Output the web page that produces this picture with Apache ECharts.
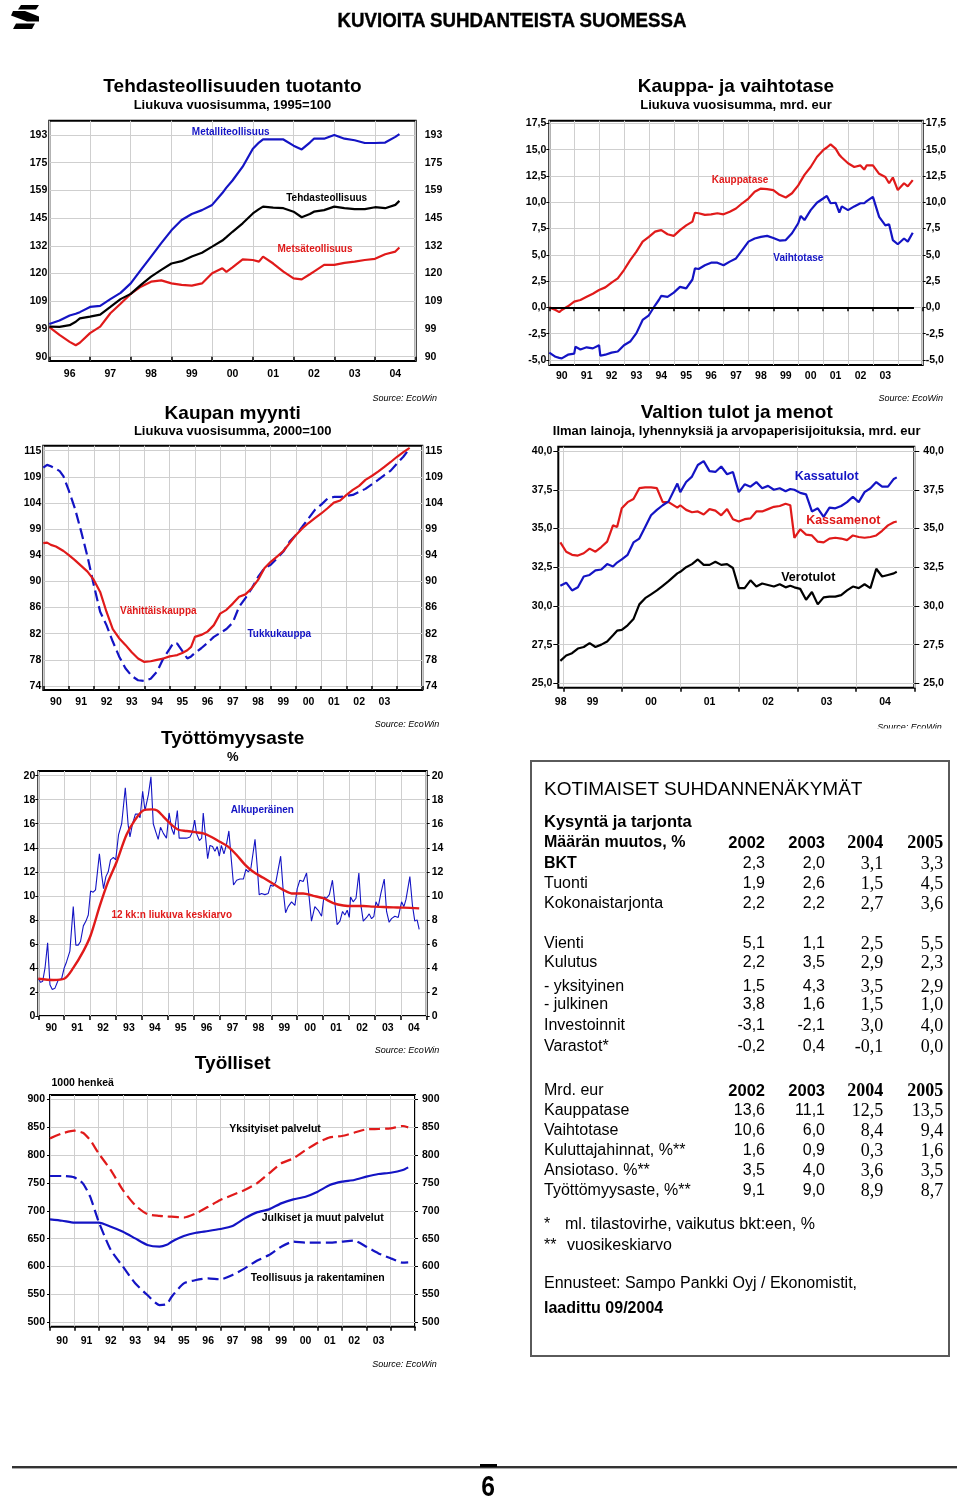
<!DOCTYPE html>
<html><head><meta charset="utf-8">
<script src="https://cdn.jsdelivr.net/npm/echarts@6/dist/echarts.min.js"></script>
<style>
html,body{margin:0;padding:0;background:#fff}
body{width:960px;height:1502px;position:relative;overflow:hidden;font-family:'Liberation Sans',Arial,Helvetica,sans-serif;color:#000}
#chart{position:absolute;left:0;top:0;width:960px;height:1502px}
.t{position:absolute;white-space:nowrap;line-height:20px;height:20px;font-size:16px;z-index:2}
.r{text-align:right;width:80px}
.serif{font-family:'Liberation Serif','Times New Roman',serif;font-size:18px}
.b{font-weight:bold}
#box{position:absolute;left:530px;top:760px;width:416px;height:593px;border:2px solid #5a5a5a;z-index:1}
#hdr{position:absolute;left:512px;top:8px;transform:translateX(-50%) scaleX(0.89);font-weight:bold;font-size:21px;line-height:24px;white-space:nowrap;z-index:2;-webkit-text-stroke:0.4px #000}
#pg{position:absolute;left:488px;top:1470px;transform:translateX(-50%) scaleX(0.85);font-weight:bold;font-size:29px;line-height:32px;z-index:2}
#rule{position:absolute;left:12px;top:1466px;width:945px;height:2px;background:#333;z-index:2}
#rule2{position:absolute;left:12px;top:1468px;width:945px;height:1px;background:#aaa;z-index:2}
#dash{position:absolute;left:480px;top:1464px;width:17px;height:3px;background:#000;z-index:2}
#logo{position:absolute;left:0;top:0;z-index:2}
</style></head>
<body>
<div id="chart"></div>
<svg id="logo" width="50" height="36" viewBox="0 0 50 36">
  <polygon points="21,5 39,5 36,9.5 18,9.5" fill="#000"/>
  <polygon points="13,11 25,11 39,16.5 39,21.5 27,21.5 11,15.5" fill="#000"/>
  <polygon points="16,23.5 35,23.5 32,29 13,29" fill="#000"/>
</svg>
<div id="hdr">KUVIOITA SUHDANTEISTA SUOMESSA</div>
<div id="box"></div>
<div id="tbl"></div>
<div id="rule"></div><div id="rule2"></div><div id="dash"></div>
<div id="pg">6</div>
<script>
// ======================= DATA =======================
// Chart 1: Tehdasteollisuuden tuotanto (log scale, ratio 1.1 from 90)
const c1Years  = [1996,1996.25,1996.5,1996.65,1996.75,1997,1997.25,1997.5,1997.75,1998,1998.25,1998.5,1998.75,1999,1999.25,1999.5,1999.75,2000,2000.25,2000.35,2000.5,2000.75,2001,2001.15,2001.25,2001.5,2001.75,2002,2002.2,2002.4,2002.5,2002.75,2003,2003.25,2003.5,2003.75,2004,2004.25,2004.5,2004.6];
const c1Metal  = [100.7,101.9,103.7,104.3,104.9,106.8,107.2,109.7,112.1,115.8,121.3,127,133,139,144,147,149,151.7,158,161,165,173,184,188,190,190,190,186,183.6,188,190.5,190.5,193,190.5,189.5,187.7,187.7,188,191.7,193.5];
const c1Total  = [99.8,99.7,100.3,101.5,102.7,103.3,104,106.8,109.7,111.7,115.2,118.5,121.3,124,125,127,128.7,131.4,134.2,135.8,138.3,142.4,147.3,149.5,150.8,150.3,150,148.2,145.4,147,148.2,149,150.8,150,149.5,149.5,150.5,150,151.7,153.8];
const c1Forest = [99.6,97,94.7,93.6,94.4,97.6,99.8,104.5,108,111.7,114.5,116.5,117,115.8,115.2,114.9,115.8,119.9,122,120.5,122.4,125.8,125.5,124.8,127,124,120.6,117.8,117.4,119.5,120.6,123.4,123.4,124.3,124.8,125.5,126,128,129.2,131];
const c1TickLabels = ['90','99','109','120','132','145','159','175','193'];
const c1XLabels = ['96','97','98','99','00','01','02','03','04'];

// Chart 2: Kauppa- ja vaihtotase
const c2Years = [1990,1990.25,1990.4,1990.5,1990.75,1991,1991.05,1991.25,1991.5,1991.75,1992,1992.05,1992.25,1992.5,1992.75,1993,1993.25,1993.5,1993.75,1994,1994.25,1994.4,1994.5,1994.75,1995,1995.25,1995.5,1995.75,1995.85,1996,1996.25,1996.5,1996.75,1997,1997.25,1997.5,1997.75,1998,1998.25,1998.5,1998.75,1999,1999.25,1999.5,1999.75,2000,2000.1,2000.25,2000.5,2000.75,2001,2001.15,2001.3,2001.5,2001.65,2001.75,2002,2002.25,2002.5,2002.65,2002.75,2003,2003.25,2003.5,2003.65,2003.8,2004,2004.25,2004.4,2004.6];
const c2Trade = [0,-0.25,-0.45,-0.25,0.1,0.55,0.6,0.7,1.0,1.3,1.65,1.7,1.9,2.35,2.75,3.55,4.5,5.3,6.25,6.7,7.2,7.3,7.35,6.95,6.8,7.35,7.8,8.15,9.0,8.95,8.8,8.85,8.95,8.85,9.1,9.4,9.9,10.35,11.0,11.3,11.25,11.15,10.7,10.45,10.85,11.6,12.0,12.6,13.35,14.3,14.95,15.2,15.5,15.1,14.5,14.25,13.7,13.35,13.5,13.1,13.5,13.5,12.7,12.4,11.8,12.35,11.15,11.8,11.5,12.1];
const c2Current = [-4.3,-4.7,-4.8,-4.85,-4.5,-4.4,-3.75,-4.0,-3.8,-3.9,-3.6,-4.6,-4.5,-4.3,-4.2,-3.6,-3.25,-2.45,-1.2,-0.75,0.2,0.7,1.1,1.0,1.4,1.95,1.8,2.65,3.7,3.65,4.0,4.25,4.25,4.0,4.35,4.65,5.45,6.25,6.55,6.7,6.8,6.6,6.35,6.4,7.05,8.0,8.7,8.3,9.25,9.95,10.35,10.6,9.9,9.95,9.0,9.6,9.25,9.6,9.9,9.9,10.1,10.5,8.6,7.8,7.9,6.4,6.0,6.55,6.25,7.1];
const c2Ticks = [-5,-2.5,0,2.5,5,7.5,10,12.5,15,17.5];
const c2XLabels = ['90','91','92','93','94','95','96','97','98','99','00','01','02','03'];

// Chart 3: Kaupan myynti (log scale, ratio 1.05 from 74)
const c3Years = [1990,1990.15,1990.3,1990.5,1990.65,1990.8,1991,1991.25,1991.5,1991.75,1992,1992.25,1992.5,1992.75,1993,1993.25,1993.5,1993.75,1994,1994.05,1994.25,1994.5,1994.75,1995,1995.15,1995.3,1995.5,1995.7,1995.85,1996,1996.25,1996.5,1996.75,1997,1997.25,1997.5,1997.75,1998,1998.25,1998.5,1998.75,1999,1999.25,1999.5,1999.75,2000,2000.25,2000.5,2000.75,2001,2001.25,2001.5,2001.75,2002,2002.25,2002.5,2002.75,2003,2003.25,2003.5,2003.75,2004,2004.25,2004.5];
const c3Wholesale = [111.2,111.8,111.5,111.0,110.5,109.4,106.7,103.1,98.7,94.2,89.3,85.0,82.9,80.4,78.2,76.5,75.4,74.8,74.7,74.7,75.0,76.0,77.9,79.3,80.2,80.1,79.0,77.9,78.2,78.7,79.4,80.2,81.1,81.7,82.3,83.3,85.8,87.2,88.8,90.7,92.2,92.8,93.9,95.1,96.9,98.1,99.6,101.2,102.8,103.8,105.0,105.3,105.3,105.5,105.7,106.3,106.9,107.8,108.7,109.7,110.6,112.1,113.5,115.3];
const c3Retail = [96.6,96.7,96.3,96.0,95.6,95.2,94.5,93.6,92.6,91.6,90.2,88.2,85.0,82.3,80.9,79.9,78.8,77.9,77.4,77.2,77.5,77.7,77.9,78.2,78.3,78.4,78.7,79.1,79.6,81.1,81.4,81.9,82.9,84.7,85.3,86.3,87.4,87.8,88.8,90.2,92.2,93.3,94.2,95.2,96.6,98.1,99.3,100.3,101.2,102.1,103.1,104.2,104.6,105.7,106.7,107.5,108.7,109.5,110.4,111.4,112.4,113.5,114.5,115.4];
const c3TickLabels = ['74','78','82','86','90','94','99','104','109','115'];
const c3XLabels = ['90','91','92','93','94','95','96','97','98','99','00','01','02','03'];

// Chart 4: Valtion tulot ja menot
const c4Years = [1998.95,1999.05,1999.15,1999.25,1999.35,1999.45,1999.55,1999.65,1999.75,1999.85,1999.92,2000.0,2000.1,2000.2,2000.3,2000.4,2000.5,2000.6,2000.7,2000.8,2000.95,2001.0,2001.1,2001.2,2001.3,2001.4,2001.5,2001.6,2001.7,2001.8,2001.9,2002.0,2002.1,2002.2,2002.3,2002.4,2002.5,2002.6,2002.7,2002.8,2002.88,2002.95,2003.05,2003.15,2003.25,2003.35,2003.45,2003.55,2003.65,2003.75,2003.85,2003.95,2004.05,2004.15,2004.25,2004.35,2004.45,2004.55,2004.65,2004.7];
const c4Revenue = [31.3,31.5,31.0,31.2,31.9,32.0,32.3,32.35,32.7,32.55,32.8,33.0,33.3,34.1,34.35,35.1,35.85,36.2,36.5,36.75,37.9,37.35,38.0,38.35,39.1,39.35,38.7,38.65,39.0,38.5,38.65,37.35,37.85,37.7,38.0,37.6,37.75,37.5,37.6,37.4,37.55,37.5,37.3,37.2,36.1,36.3,35.75,36.35,36.3,36.45,36.7,37.05,36.7,37.35,37.6,38.0,37.7,37.7,38.2,38.3];
const c4Spending = [34.1,33.5,33.3,33.25,33.4,33.7,33.5,33.8,34.15,35.2,35.1,36.3,36.7,36.9,37.6,37.65,37.65,37.6,36.7,36.7,36.35,36.5,36.2,36.05,36.1,35.9,36.25,36.15,35.85,36.25,35.6,35.45,35.6,35.65,36.1,36.1,36.25,36.4,36.45,36.6,36.5,34.4,34.95,34.6,34.55,34.15,34.1,34.35,34.4,34.35,34.25,34.55,34.45,34.4,34.45,34.55,34.85,35.2,35.4,35.45];
const c4Tax = [26.45,26.8,26.95,27.25,27.35,27.6,27.35,27.5,27.7,28.1,28.4,28.45,28.75,29.15,30.1,30.5,30.75,31.0,31.3,31.6,32.1,32.2,32.5,32.7,33.0,32.65,32.65,32.85,32.65,32.7,32.45,31.15,31.15,31.65,31.25,31.45,31.35,31.25,31.4,31.2,31.3,31.2,31.1,30.4,30.9,30.1,30.55,30.6,30.6,30.7,31.0,31.25,31.15,31.4,31.15,32.4,31.9,32.0,32.1,32.2];
const c4Ticks = [25,27.5,30,32.5,35,37.5,40];
const c4XLabels = ['98','99','00','01','02','03','04'];
const c4XLabelYears = [1998.955,1999.5,2000.5,2001.5,2002.5,2003.5,2004.5];

// Chart 5: Työttömyysaste
const c5RawYears = [1990.00,1990.09,1990.17,1990.26,1990.36,1990.45,1990.54,1990.64,1990.71,1990.77,1990.90,1991.00,1991.09,1991.22,1991.35,1991.45,1991.54,1991.63,1991.74,1991.84,1991.93,1992.02,1992.12,1992.21,1992.36,1992.45,1992.52,1992.61,1992.70,1992.79,1992.90,1992.99,1993.10,1993.22,1993.36,1993.47,1993.54,1993.64,1993.75,1993.86,1993.93,1994.03,1994.12,1994.25,1994.35,1994.44,1994.54,1994.63,1994.72,1994.83,1994.95,1995.05,1995.15,1995.24,1995.37,1995.44,1995.60,1995.73,1995.86,1995.95,1996.04,1996.11,1996.22,1996.31,1996.37,1996.45,1996.54,1996.63,1996.73,1996.82,1996.91,1996.99,1997.07,1997.17,1997.27,1997.36,1997.45,1997.54,1997.66,1997.79,1997.92,1998.02,1998.11,1998.21,1998.37,1998.46,1998.53,1998.62,1998.75,1998.88,1998.97,1999.07,1999.18,1999.36,1999.46,1999.55,1999.65,1999.78,1999.91,2000.00,2000.10,2000.23,2000.36,2000.45,2000.55,2000.68,2000.81,2000.94,2001.03,2001.13,2001.24,2001.36,2001.45,2001.54,2001.65,2001.75,2001.84,2001.93,2002.01,2002.06,2002.16,2002.27,2002.38,2002.46,2002.55,2002.68,2002.78,2002.87,2002.96,2003.04,2003.13,2003.23,2003.36,2003.45,2003.55,2003.64,2003.77,2003.90,2004.03,2004.12,2004.20,2004.35,2004.45,2004.54,2004.63,2004.71];
const c5Raw = [3.1,2.8,2.9,4.0,6.1,2.6,2.2,2.3,2.4,3.0,3.1,4.0,4.5,5.4,9.1,5.9,5.9,6.2,7.5,7.9,8.4,10.4,10.3,10.5,13.5,11.7,10.6,11.6,12.0,13.0,13.2,13.0,15.1,16.0,19.0,15.9,14.9,16.0,16.8,16.8,16.5,18.7,17.1,18.4,19.9,16.0,15.3,14.7,15.7,15.2,14.8,16.9,15.6,15.1,17.1,14.8,14.8,14.8,14.9,15.3,16.3,15.2,14.6,14.8,16.9,15.1,13.1,14.2,14.1,13.7,14.1,13.3,14.2,13.5,14.3,15.4,13.1,10.9,11.3,11.4,11.4,12.2,12.0,12.3,14.7,12.3,10.1,10.2,10.1,10.2,10.9,10.8,11.2,13.3,10.4,8.6,9.1,9.5,9.2,10.6,11.3,11.2,11.9,10.1,7.9,9.1,8.8,8.3,9.9,9.8,10.1,11.3,9.5,7.6,7.9,8.7,8.4,8.8,8.2,9.9,9.5,9.8,11.9,9.2,7.9,8.2,8.5,8.1,8.3,9.5,9.1,10.2,11.4,8.7,7.8,8.1,8.3,8.2,9.5,9.1,9.7,11.6,9.2,7.9,8.0,7.2];
const c5AvgYears = [1990.0,1990.58,1991.0,1991.35,1991.74,1992.02,1992.38,1992.7,1993.02,1993.41,1993.73,1994.05,1994.38,1994.59,1994.83,1995.15,1995.41,1995.73,1996.05,1996.37,1996.69,1997.01,1997.33,1997.66,1997.98,1998.3,1998.69,1999.07,1999.46,1999.78,2000.23,2000.62,2001.0,2001.39,2001.78,2002.16,2002.55,2002.93,2003.32,2003.71,2004.09,2004.71];
const c5Avg = [3.1,3.0,3.1,4.0,5.4,6.7,9.2,11.2,12.8,15.1,16.3,17.1,17.2,17.1,16.6,15.9,15.5,15.4,15.3,15.2,14.9,14.5,14.1,13.4,12.6,12.0,11.5,11.0,10.5,10.2,10.2,10.0,9.8,9.4,9.2,9.15,9.15,9.1,9.07,9.04,9.02,8.96];
const c5Ticks = [0,2,4,6,8,10,12,14,16,18,20];
const c5XLabels = ['90','91','92','93','94','95','96','97','98','99','00','01','02','03','04'];

// Chart 6: Työlliset (1000 henkeä)
const c6Years = [1990,1990.5,1991,1991.35,1991.65,1992,1992.5,1993,1993.5,1994,1994.5,1994.8,1995,1995.5,1996,1996.5,1997,1997.5,1998,1998.5,1999,1999.5,2000,2000.5,2001,2001.5,2002,2002.5,2003,2003.5,2004,2004.5,2004.72];
const c6Private = [830,839,843.8,840,827,803,773,737,710,694,691,690,689.5,688,695.5,707.4,719.4,728.4,737.3,749.3,767.2,785.2,794.1,809,822.3,831.8,834.2,840.2,846.2,846.8,848,852.2,849.8];
const c6Public = [684.7,682.3,678.7,678.7,678.7,678.7,671.6,662.6,650.6,638.7,635.7,639,644.7,654.8,660.8,663.8,667.4,672.8,686.5,697.3,702.7,713.4,720.6,725.4,734.4,746.3,752.3,755.3,761.3,766.1,768.4,773.2,778];
const c6Industry = [762.5,762.5,760,749.3,725.4,680.5,629.7,599.8,570,549,531,532.8,546,570,575.9,578.9,577.1,584.9,596.8,610.6,620.7,635.7,644.7,642.9,642.9,642.9,644.7,646.5,635.7,623.7,614.8,607,607.6];
const c6Ticks = [500,550,600,650,700,750,800,850,900];
const c6XLabels = ['90','91','92','93','94','95','96','97','98','99','00','01','02','03'];

// Table
const tblYears = ['2002','2003','2004','2005'];
const tblSupply = [
  ['BKT',[2.3,2.0,3.1,3.3]],
  ['Tuonti',[1.9,2.6,1.5,4.5]],
  ['Kokonaistarjonta',[2.2,2.2,2.7,3.6]],
  ['Vienti',[5.1,1.1,2.5,5.5]],
  ['Kulutus',[2.2,3.5,2.9,2.3]],
  ['- yksityinen',[1.5,4.3,3.5,2.9]],
  ['- julkinen',[3.8,1.6,1.5,1.0]],
  ['Investoinnit',[-3.1,-2.1,3.0,4.0]],
  ['Varastot*',[-0.2,0.4,-0.1,0.0]]
];
const tblMoney = [
  ['Kauppatase',[13.6,11.1,12.5,13.5]],
  ['Vaihtotase',[10.6,6.0,8.4,9.4]],
  ['Kuluttajahinnat, %**',[1.6,0.9,0.3,1.6]],
  ['Ansiotaso. %**',[3.5,4.0,3.6,3.5]],
  ['Työttömyysaste, %**',[9.1,9.0,8.9,8.7]]
];

// ======================= CHART =======================
const FONT = "'Liberation Sans', Arial, Helvetica, sans-serif";
const GRIDC = '#cfcfcf';
const BLUE = '#1414c4', RED = '#e01a1a', BLACK = '#000000';
const comma = v => v.toFixed(1).replace('.', ',');

const grids = [], xAxes = [], yAxes = [], series = [], graphics = [];

function nearestLabel(list, pos, v) {
  let bi = 0, bd = Infinity;
  pos.forEach((p, i) => { const d = Math.abs(p - v); if (d < bd) { bd = d; bi = i; } });
  return list[bi];
}

function addPanel(p) {
  const gi = grids.length;
  grids.push({left: p.left, top: p.top, width: p.width, height: p.height, show: true,
    borderColor: '#000', borderWidth: 2, backgroundColor: 'rgba(0,0,0,0)'});
  const xPos = p.xLabelPos || p.xLabels.map((l, i) => p.firstYear + i + 0.5);
  const xTicks = [];
  for (let y = Math.ceil(p.xMin); y <= Math.floor(p.xMax); y++) xTicks.push(y);
  const lab = {color: '#000', fontSize: 10.5, fontWeight: 'bold', fontFamily: FONT};
  xAxes.push({type: 'value', gridIndex: gi, min: p.xMin, max: p.xMax,
    axisLine: {show: false},
    axisTick: {show: true, customValues: xTicks, length: 4, lineStyle: {color: '#000', width: 1.5}},
    axisLabel: Object.assign({customValues: xPos, margin: p.xMargin,
      formatter: v => nearestLabel(p.xLabels, xPos, v)}, lab),
    splitLine: {show: true, lineStyle: {color: GRIDC, width: 1}}});
  ['left', 'right'].forEach((side, k) => {
    yAxes.push({type: 'value', gridIndex: gi, position: side, min: p.yMin, max: p.yMax,
      axisLine: {show: false},
      axisTick: {show: true, customValues: p.yTicks, length: p.yTickLen,
        lineStyle: {color: p.yTickLen > 0 ? '#000' : 'rgba(0,0,0,0)', width: 1}},
      axisLabel: Object.assign({customValues: p.yTicks, margin: k === 0 ? p.yMarginL : p.yMarginR,
        formatter: p.yFmt}, lab),
      splitLine: {show: k === 0, lineStyle: {color: GRIDC, width: 1}}});
  });
  return gi;
}

function addLine(gi, xs, ys, color, width, dash, z, extra) {
  series.push(Object.assign({type: 'line', xAxisIndex: gi, yAxisIndex: gi * 2,
    data: xs.map((x, i) => [x, ys[i]]), showSymbol: false, symbol: 'none', silent: true,
    lineStyle: {color, width, type: dash || 'solid'}, z: z || 2}, extra || {}));
}

function txt(x, y, text, size, color, opts) {
  opts = opts || {};
  graphics.push({type: 'text', x, y, z: 100, style: {text, fill: color || '#000',
    font: (opts.italic ? 'italic ' : '') + (opts.weight || 'bold') + ' ' + size + 'px ' + FONT,
    textAlign: opts.align || 'center', align: opts.align || 'center',
    textVerticalAlign: 'middle', verticalAlign: 'middle'}});
}

// --- log transforms
const lg = (v, base, ratio) => Math.log(v / base) / Math.log(ratio);
const idxTicks = n => Array.from({length: n}, (_, i) => i);

// Chart 1
const g1 = addPanel({left: 49.3, top: 120.7, width: 366.4, height: 240.3,
  xMin: 1996, xMax: 2005, firstYear: 1996, xLabels: c1XLabels, xMargin: 8,
  yMin: -0.156, yMax: 8.517, yTicks: idxTicks(c1TickLabels.length), yTickLen: 0,
  yFmt: v => c1TickLabels[Math.round(v)], yMarginL: 2, yMarginR: 9});
addLine(g1, c1Years, c1Forest.map(v => lg(v, 90, 1.1)), RED, 2.2);
addLine(g1, c1Years, c1Total.map(v => lg(v, 90, 1.1)), BLACK, 2.2);
addLine(g1, c1Years, c1Metal.map(v => lg(v, 90, 1.1)), BLUE, 2.2);
txt(232.5, 86.7, 'Tehdasteollisuuden tuotanto', 19);
txt(232.5, 105, 'Liukuva vuosisumma, 1995=100', 13);
txt(230.7, 132, 'Metalliteollisuus', 10, BLUE);
txt(326.7, 198.3, 'Tehdasteollisuus', 10, BLACK);
txt(315, 249.3, 'Metsäteollisuus', 10, RED);
txt(437, 398.5, 'Source: EcoWin', 9, '#000', {italic: true, weight: 'normal', align: 'right'});

// Chart 2
const g2 = addPanel({left: 549.3, top: 120.7, width: 373.4, height: 244.3,
  xMin: 1990, xMax: 2005, firstYear: 1990, xLabels: c2XLabels, xMargin: 6,
  yMin: -5.48, yMax: 17.75, yTicks: c2Ticks, yTickLen: 3, yFmt: comma, yMarginL: 3, yMarginR: 3});
addLine(g2, c2Years, c2Trade, RED, 2.2, null, 3, {
  markLine: {silent: true, symbol: 'none', label: {show: false},
    lineStyle: {color: '#000', width: 2, type: 'solid'},
    data: [[{coord: [1990, 0]}, {coord: [2004.65, 0]}]]}});
addLine(g2, c2Years, c2Current, BLUE, 2.2, null, 3);
txt(736, 86.7, 'Kauppa- ja vaihtotase', 19);
txt(736, 105, 'Liukuva vuosisumma, mrd. eur', 13);
txt(740, 180, 'Kauppatase', 10, RED);
txt(798.3, 258.3, 'Vaihtotase', 10, BLUE);
txt(943, 398.5, 'Source: EcoWin', 9, '#000', {italic: true, weight: 'normal', align: 'right'});

// Chart 3
const g3 = addPanel({left: 43.3, top: 445.7, width: 379, height: 244.3,
  xMin: 1990, xMax: 2005, firstYear: 1990, xLabels: c3XLabels, xMargin: 7,
  yMin: -0.153, yMax: 9.19, yTicks: idxTicks(c3TickLabels.length), yTickLen: 0,
  yFmt: v => c3TickLabels[Math.round(v)], yMarginL: 2, yMarginR: 3});
addLine(g3, c3Years, c3Wholesale.map(v => lg(v, 74, 1.05)), BLUE, 2.2, [11, 5], 2);
addLine(g3, c3Years, c3Retail.map(v => lg(v, 74, 1.05)), RED, 2.2, null, 3);
txt(232.7, 413.3, 'Kaupan myynti', 19);
txt(232.7, 431, 'Liukuva vuosisumma, 2000=100', 13);
txt(158.3, 611.7, 'Vähittäiskauppa', 10, RED);
txt(279.3, 634, 'Tukkukauppa', 10, BLUE);
txt(439.3, 724, 'Source: EcoWin', 9, '#000', {italic: true, weight: 'normal', align: 'right'});

// Chart 4
const g4 = addPanel({left: 558.3, top: 446.7, width: 356, height: 241,
  xMin: 1998.915, xMax: 2005, xLabels: c4XLabels, xLabelPos: c4XLabelYears, xMargin: 8.5,
  yMin: 24.72, yMax: 40.28, yTicks: c4Ticks, yTickLen: 5, yFmt: comma, yMarginL: 6, yMarginR: 9});
addLine(g4, c4Years, c4Tax, BLACK, 2.2, null, 3);
addLine(g4, c4Years, c4Spending, RED, 2.2, null, 3);
addLine(g4, c4Years, c4Revenue, BLUE, 2.2, null, 4);
txt(736.7, 412.3, 'Valtion tulot ja menot', 19);
txt(736.7, 431.7, 'Ilman lainoja, lyhennyksiä ja arvopaperisijoituksia, mrd. eur', 13);
txt(826.7, 476.7, 'Kassatulot', 12.5, BLUE);
txt(843.3, 521, 'Kassamenot', 12.5, RED);
txt(808.3, 577.7, 'Verotulot', 12.5, BLACK);
txt(941.7, 727.5, 'Source: EcoWin', 9, '#000', {italic: true, weight: 'normal', align: 'right'});
graphics.push({type: 'rect', z: 101, shape: {x: 860, y: 728.5, width: 95, height: 10}, style: {fill: '#fff'}});

// Chart 5
const g5 = addPanel({left: 38.3, top: 771, width: 388.4, height: 245,
  xMin: 1990, xMax: 2005, firstYear: 1990, xLabels: c5XLabels, xMargin: 7,
  yMin: 0, yMax: 20.39, yTicks: c5Ticks, yTickLen: 3, yFmt: v => String(v), yMarginL: 3, yMarginR: 5});
addLine(g5, c5RawYears, c5Raw, BLUE, 1.1, null, 2);
addLine(g5, c5AvgYears, c5Avg, RED, 2.4, null, 3, {smooth: 0.3});
txt(232.7, 739, 'Työttömyysaste', 19);
txt(232.7, 757.3, '%', 13);
txt(262.3, 810, 'Alkuperäinen', 10, BLUE);
txt(171.7, 915.7, '12 kk:n liukuva keskiarvo', 10, RED);
txt(439.3, 1050, 'Source: EcoWin', 9, '#000', {italic: true, weight: 'normal', align: 'right'});

// Chart 6
const g6 = addPanel({left: 50, top: 1095, width: 365, height: 231.7,
  xMin: 1990, xMax: 2005, firstYear: 1990, xLabels: c6XLabels, xMargin: 9,
  yMin: 492.2, yMax: 907.8, yTicks: c6Ticks, yTickLen: 3, yFmt: v => String(v), yMarginL: 5, yMarginR: 7});
addLine(g6, c6Years, c6Private, RED, 2.2, [11, 5], 3, {smooth: 0.2});
addLine(g6, c6Years, c6Public, BLUE, 2.2, null, 3, {smooth: 0.2});
addLine(g6, c6Years, c6Industry, BLUE, 2.2, [11, 5], 3, {smooth: 0.2});
txt(232.7, 1064, 'Työlliset', 19);
txt(82.7, 1082.7, '1000 henkeä', 10.5);
txt(275, 1129.3, 'Yksityiset palvelut', 10.5);
txt(322.7, 1218.3, 'Julkiset ja muut palvelut', 10.5);
txt(317.7, 1277.7, 'Teollisuus ja rakentaminen', 10.5);
txt(436.7, 1364.3, 'Source: EcoWin', 9, '#000', {italic: true, weight: 'normal', align: 'right'});

const chart = echarts.init(document.getElementById('chart'), null, {renderer: 'canvas'});
chart.setOption({animation: false, backgroundColor: '#fff',
  grid: grids, xAxis: xAxes, yAxis: yAxes, series, graphic: {elements: graphics}});

// ======================= TABLE =======================
const tbl = document.getElementById('tbl');
const colRight = [765, 825, 883.3, 943.3];
function put(text, x, yc, cls, alignRight, size) {
  const d = document.createElement('div');
  d.className = 't ' + (cls || '') + (alignRight ? ' r' : '');
  d.textContent = text;
  d.style.left = (alignRight ? x - 80 : x) + 'px';
  d.style.top = (yc - 10) + 'px';
  if (size) d.style.fontSize = size + 'px';
  tbl.appendChild(d);
}
function putYears(yc) {
  tblYears.forEach((yr, i) => put(yr, colRight[i], yc, 'b' + (i >= 2 ? ' serif' : ''), true, i < 2 ? 16.5 : 18));
}
function putRow(row, yc, boldLabel) {
  put(row[0], 544, yc, boldLabel ? 'b' : '');
  row[1].forEach((v, i) => put(comma(v), colRight[i], yc, i >= 2 ? 'serif' : '', true));
}
put('KOTIMAISET SUHDANNENÄKYMÄT', 544, 789.3, '', false, 19);
put('Kysyntä ja tarjonta', 544, 821, 'b', false, 16.5);
put('Määrän muutos, %', 544, 841.7, 'b', false, 16);
putYears(841.7);
const supplyY = [862.7, 883.3, 903.3, 943.3, 962.3, 986, 1004, 1025, 1046];
tblSupply.forEach((r, i) => putRow(r, supplyY[i], i === 0));
put('Mrd. eur', 544, 1090);
putYears(1090);
const moneyY = [1110, 1130, 1150, 1170, 1190];
tblMoney.forEach((r, i) => putRow(r, moneyY[i], false));
put('*', 544, 1224); put('ml. tilastovirhe, vaikutus bkt:een, %', 565, 1224);
put('**', 544, 1245); put('vuosikeskiarvo', 567, 1245);
put('Ennusteet: Sampo Pankki Oyj / Ekonomistit,', 544, 1283.3);
put('laadittu 09/2004', 544, 1307.7, 'b');
</script>
</body></html>
